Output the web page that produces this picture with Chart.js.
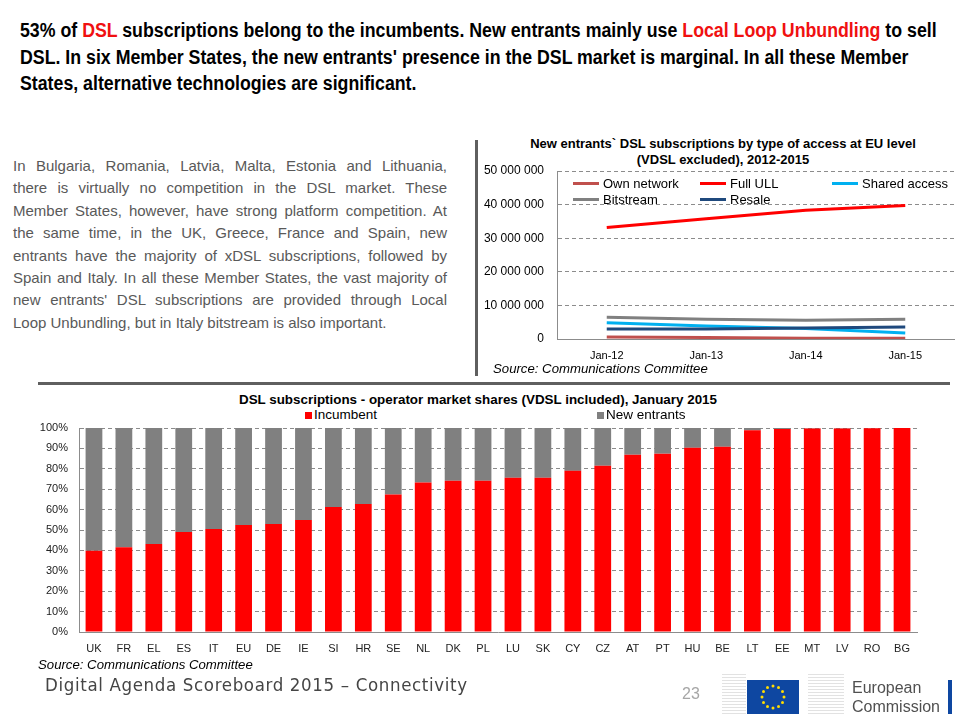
<!DOCTYPE html>
<html lang="en">
<head>
<meta charset="UTF-8">
<title>DSL subscriptions - Digital Agenda Scoreboard 2015</title>
<script src="https://cdn.jsdelivr.net/npm/chart.js"></script>
<style>
  body { margin: 0; background: #fff; font-family: "Liberation Sans", Arial, sans-serif; }
  #page { position: relative; width: 960px; height: 720px; overflow: hidden; }
  .abs { position: absolute; }
  #headline { left: 20px; top: 17px; width: 1040px; font-weight: bold; font-size: 19.5px; line-height: 26.5px; color: #000;
              transform: scaleX(0.91); transform-origin: 0 0; white-space: nowrap; }
  #headline .red { color: #f01010; }
  #intro { left: 13px; top: 155px; width: 434px; font-size: 15px; line-height: 22.4px; color: #595959; }
  #intro div { text-align: justify; text-align-last: justify; white-space: nowrap; }
  #intro div.last { text-align-last: left; }
  .ctitle { font-weight: bold; color: #000; text-align: center; }
  .source { font-style: italic; font-size: 13.2px; color: #000; }
  .lg { font-size: 13px; color: #000; white-space: nowrap; }
  .lg i { display: inline-block; width: 26px; height: 3px; vertical-align: middle; margin-right: 4px; position: relative; top: -1px; }
  .blg { font-size: 13.5px; color: #000; white-space: nowrap; }
  .blg i { display: inline-block; width: 7px; height: 7px; margin-right: 2px; }
</style>
</head>
<body>
<div id="page">
  <div id="headline" class="abs">
    53% of <span class="red">DSL</span> subscriptions belong to the incumbents. New entrants mainly use <span class="red">Local Loop Unbundling</span> to sell<br>
    DSL. In six Member States, the new entrants' presence in the DSL market is marginal. In all these Member<br>
    States, alternative technologies are significant.
  </div>

  <div id="intro" class="abs">
    <div>In Bulgaria, Romania, Latvia, Malta, Estonia and Lithuania,</div>
    <div>there is virtually no competition in the DSL market. These</div>
    <div>Member States, however, have strong platform competition. At</div>
    <div>the same time, in the UK, Greece, France and Spain, new</div>
    <div>entrants have the majority of xDSL subscriptions, followed by</div>
    <div>Spain and Italy. In all these Member States, the vast majority of</div>
    <div>new entrants' DSL subscriptions are provided through Local</div>
    <div class="last">Loop Unbundling, but in Italy bitstream is also important.</div>
  </div>

  <!-- dividers -->
  <div class="abs" style="left:475px; top:140px; width:3px; height:236px; background:#5f5f5f;"></div>
  <div class="abs" style="left:38px; top:382px; width:912px; height:3px; background:#5f5f5f;"></div>

  <!-- line chart -->
  <div class="abs ctitle" style="left:480px; top:136px; width:486px; font-size:13px; line-height:16px;">
    New entrants` DSL subscriptions by type of access at EU level<br>(VDSL excluded), 2012-2015
  </div>
  <div class="abs" style="left:480px; top:160px; width:475px; height:210px;">
    <canvas id="accessChart"></canvas>
  </div>
  <div class="abs lg" style="left:573px; top:176px;"><i style="background:#c0504d"></i>Own network</div>
  <div class="abs lg" style="left:700px; top:176px;"><i style="background:#ff0000"></i>Full ULL</div>
  <div class="abs lg" style="left:832px; top:176px;"><i style="background:#00b0f0"></i>Shared access</div>
  <div class="abs lg" style="left:573px; top:192px;"><i style="background:#808080"></i>Bitstream</div>
  <div class="abs lg" style="left:700px; top:192px;"><i style="background:#1f497d"></i>Resale</div>
  <div class="abs source" style="left:493px; top:361px;">Source: Communications Committee</div>

  <!-- bar chart -->
  <div class="abs ctitle" style="left:0px; top:392px; width:956px; font-size:13.4px;">DSL subscriptions - operator market shares (VDSL included), January 2015</div>
  <div class="abs blg" style="left:305px; top:407px;"><i style="background:#ff0000"></i>Incumbent</div>
  <div class="abs blg" style="left:597px; top:407px;"><i style="background:#808080"></i>New entrants</div>
  <div class="abs" style="left:0px; top:420px; width:930px; height:240px;">
    <canvas id="shareChart"></canvas>
  </div>
  <div class="abs source" style="left:38px; top:657px;">Source: Communications Committee</div>

  <!-- footer -->
  <div class="abs" style="left:45px; top:674px; font-family:'DejaVu Sans Condensed','DejaVu Sans',sans-serif; font-size:18.5px; letter-spacing:0.65px; color:#454545;">Digital Agenda Scoreboard 2015 – Connectivity</div>
  <div class="abs" style="left:682px; top:685px; font-size:16px; color:#a6a6a6;">23</div>
  <div class="abs" style="left:722px; top:672px; width:24px; height:42px; background:repeating-linear-gradient(#fff 0 2px,#e2e2e2 2px 3px);"></div>
  <div class="abs" style="left:747px; top:680px; width:52px; height:34px; background:#0e47a1;">
    <svg width="52" height="34" id="stars"></svg>
  </div>
  <div class="abs" style="left:808px; top:672px; width:36px; height:42px; background:repeating-linear-gradient(#fff 0 2px,#e2e2e2 2px 3px);"></div>
  <div class="abs" style="left:852px; top:678px; font-size:16px; line-height:19px; color:#505050;">European<br>Commission</div>
  <div class="abs" style="left:948px; top:680px; width:4px; height:34px; background:#0e47a1;"></div>
</div>

<script>
// line chart: new entrants by type of access (subscriptions)
var years = ["Jan-12", "Jan-13", "Jan-14", "Jan-15"];
var ownNetwork = [600000, 450000, 250000, 200000];
var fullULL = [33200000, 35800000, 38300000, 39700000];
var sharedAccess = [4800000, 3900000, 3100000, 1800000];
var bitstream = [6500000, 5900000, 5600000, 5900000];
var resale = [3000000, 3000000, 3300000, 3600000];
var accessTicks = [0, 10000000, 20000000, 30000000, 40000000, 50000000];

// bar chart: operator market shares (%)
var countries = ["UK", "FR", "EL", "ES", "IT", "EU", "DE", "IE", "SI", "HR", "SE", "NL", "DK", "PL",
                 "LU", "SK", "CY", "CZ", "AT", "PT", "HU", "BE", "LT", "EE", "MT", "LV", "RO", "BG"];
var incumbent = [39.8, 41.5, 43.1, 49.0, 50.5, 52.5, 53.0, 54.9, 61.3, 62.8, 67.4, 73.3, 74.1, 74.1,
                 75.6, 75.6, 79.0, 81.5, 86.9, 87.4, 90.3, 90.8, 98.9, 99.5, 99.8, 99.8, 99.9, 100];
var newEntrants = [60.2, 58.5, 56.9, 51.0, 49.5, 47.5, 47.0, 45.1, 38.7, 37.2, 32.6, 26.7, 25.9, 25.9,
                   24.4, 24.4, 21.0, 18.5, 13.1, 12.6, 9.7, 9.2, 1.1, 0.5, 0.2, 0.2, 0.1, 0];
var percentTicks = [0, 10, 20, 30, 40, 50, 60, 70, 80, 90, 100];

// EU flag stars
(function () {
    var svg = document.getElementById("stars");
    var html = "";
    for (var i = 0; i < 12; i++) {
        var a = i * Math.PI / 6;
        html += '<circle cx="' + (26 + 11 * Math.sin(a)).toFixed(1) + '" cy="' + (17 - 11 * Math.cos(a)).toFixed(1) + '" r="1.5" fill="#ffdd00"/>';
    }
    svg.innerHTML = html;
})();

function spaced(v) {
    return String(v).replace(/\B(?=(\d{3})+(?!\d))/g, " ");
}

Chart.defaults.font.family = "'Liberation Sans', Arial, sans-serif";
Chart.defaults.color = "#000";
Chart.defaults.animation = false;

var gridGray = "#8c8c8c";

function lineSet(label, data, color) {
    return { label: label, data: data, borderColor: color, backgroundColor: color,
             borderWidth: 3, pointRadius: 0, tension: 0, fill: false };
}

// fixed axis boxes so the plot areas land where the slide has them
function fixY(width) {
    return function (s) { s.width = width; s.paddingTop = 0; s.paddingBottom = 0; };
}
function fixX(height) {
    return function (s) { s.height = height; s.paddingLeft = 0; s.paddingRight = 0; };
}

new Chart(document.getElementById("accessChart"), {
    type: "line",
    data: {
        labels: years,
        datasets: [
            lineSet("Bitstream", bitstream, "#808080"),
            lineSet("Resale", resale, "#1f497d"),
            lineSet("Shared access", sharedAccess, "#00b0f0"),
            lineSet("Own network", ownNetwork, "#c0504d"),
            lineSet("Full ULL", fullULL, "#ff0000")
        ]
    },
    options: {
        responsive: true,
        maintainAspectRatio: false,
        layout: { padding: { top: 11, right: 0, left: 0, bottom: 0 } },
        plugins: { legend: { display: false }, tooltip: { enabled: false } },
        scales: {
            x: {
                offset: true,
                grid: { display: false, drawTicks: false },
                border: { display: true, color: gridGray, width: 1 },
                ticks: { padding: 10, font: { size: 11 } },
                afterFit: fixX(31)
            },
            y: {
                min: 0, max: 50000000,
                afterBuildTicks: function (s) { s.ticks = accessTicks.map(function (v) { return { value: v }; }); },
                grid: { color: gridGray, drawTicks: false },
                border: { display: true, color: gridGray, dash: [4, 3] },
                ticks: { padding: 13, font: { size: 12 }, callback: function (v) { return spaced(v); } },
                afterFit: fixY(77)
            }
        }
    }
});

new Chart(document.getElementById("shareChart"), {
    type: "bar",
    data: {
        labels: countries,
        datasets: [
            { label: "Incumbent", data: incumbent, backgroundColor: "#ff0000",
              categoryPercentage: 1, barPercentage: 0.56 },
            { label: "New entrants", data: newEntrants, backgroundColor: "#808080",
              categoryPercentage: 1, barPercentage: 0.56 }
        ]
    },
    options: {
        responsive: true,
        maintainAspectRatio: false,
        layout: { padding: { top: 8, right: 13, left: 0, bottom: 0 } },
        plugins: { legend: { display: false }, tooltip: { enabled: false } },
        scales: {
            x: {
                stacked: true,
                grid: { display: false, drawTicks: false },
                border: { display: true, color: gridGray },
                ticks: { padding: 10, autoSkip: false, maxRotation: 0, font: { size: 11 }, color: "#222" },
                afterFit: fixX(28)
            },
            y: {
                stacked: true,
                min: 0, max: 100,
                afterBuildTicks: function (s) { s.ticks = percentTicks.map(function (v) { return { value: v }; }); },
                grid: { color: gridGray, drawTicks: false },
                border: { display: true, color: gridGray, dash: [4, 3] },
                ticks: { padding: 11, font: { size: 11 }, color: "#222", callback: function (v) { return v + "%"; } },
                afterFit: fixY(79)
            }
        }
    }
});
</script>
</body>
</html>
